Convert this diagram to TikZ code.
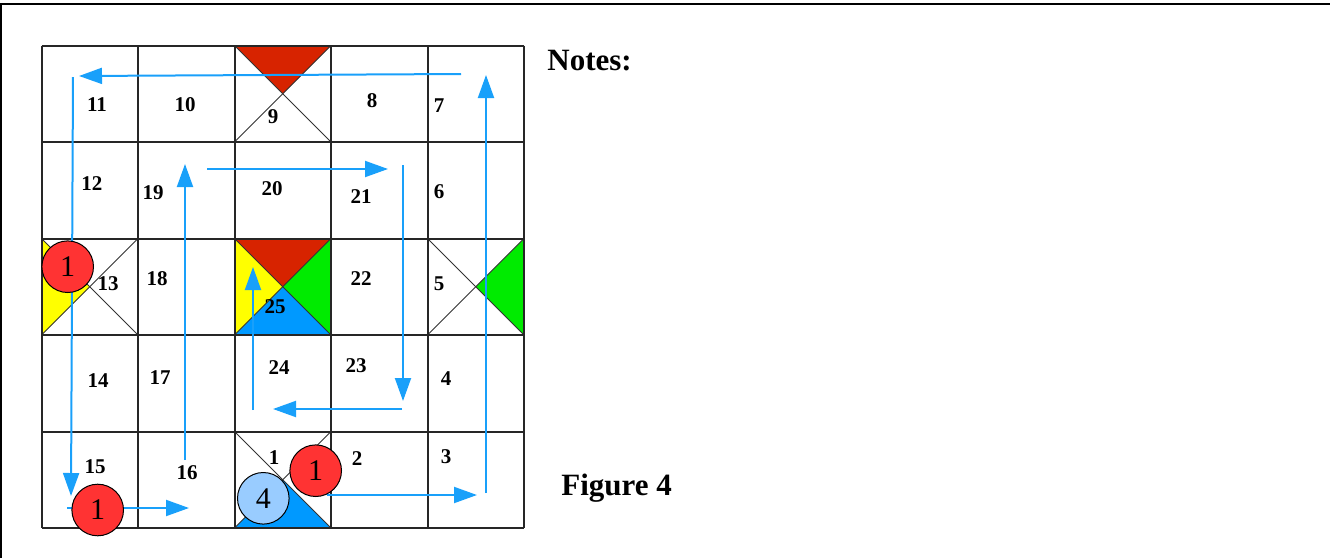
\documentclass[tikz,border=0pt]{standalone}
\usepackage{fontspec}
\setmainfont{Liberation Serif}
\usepackage{tikz}
\usetikzlibrary{arrows.meta}
\definecolor{cred}{RGB}{215,35,0}
\definecolor{cgreen}{RGB}{0,235,0}
\definecolor{cyellow}{RGB}{255,255,0}
\definecolor{cblue}{RGB}{0,153,255}
\definecolor{croute}{RGB}{25,160,250}
\definecolor{ctok}{RGB}{255,51,51}
\definecolor{ctokb}{RGB}{153,204,255}
\tikzset{
  borderline/.style={line width=1pt,black},
  gridline/.style={line width=1pt,black!85},
  diag/.style={line width=0.5pt,black!80},
  cellnum/.style={font=\bfseries\fontsize{10.5}{12}\selectfont,inner sep=0pt},
  % blue route through the cells
  route/.style={line width=1pt,croute,-{Triangle[length=11.5pt,width=8pt]}},
  token/.style={circle,draw=black,line width=0.5pt,minimum size=25.8pt,
    inner sep=0pt,font=\fontsize{15}{17}\selectfont},
  heading/.style={font=\bfseries\fontsize{15.5}{18}\selectfont,anchor=base west,inner sep=0pt}
}
\begin{document}
\begin{tikzpicture}[x=0.5pt,y=-0.5pt]
  \useasboundingbox (0,0) rectangle (1330,558);
  \draw[borderline] (1,558) -- (1,4) -- (1330,4);

  % coloured triangles
  \fill[cred] (234.5,45.5) -- (331,45.5) -- (282.75,93.75) -- cycle;
  \fill[cyellow] (41.5,238.5) -- (89.75,286.75) -- (41.5,335) -- cycle;
  \fill[cred] (234.5,238.5) -- (331,238.5) -- (282.75,286.75) -- cycle;
  \fill[cgreen] (331,238.5) -- (331,335) -- (282.75,286.75) -- cycle;
  \fill[cblue] (234.5,335) -- (331,335) -- (282.75,286.75) -- cycle;
  \fill[cyellow] (234.5,238.5) -- (234.5,335) -- (282.75,286.75) -- cycle;
  \fill[cgreen] (524,238.5) -- (524,335) -- (475.75,286.75) -- cycle;
  \fill[cblue] (234.5,528) -- (331,528) -- (282.75,479.75) -- cycle;

  % diagonals
  \foreach \cx/\cy in {234.5/45.5, 41.5/238.5, 234.5/238.5, 427.5/238.5, 234.5/431.5} {
    \draw[diag] (\cx,\cy) -- ++(96.5,96.5);
    \draw[diag] (\cx,\cy+96.5) -- ++(96.5,-96.5);
  }

  % grid
  \foreach \i in {0,...,5} {
    \draw[gridline] ({41.5+96.5*\i},45.5) -- ({41.5+96.5*\i},528);
    \draw[gridline] (41.5,{45.5+96.5*\i}) -- (524,{45.5+96.5*\i});
  }

  % cell numbers
  \foreach \n/\px/\py in {11/97/105, 10/185/105, 9/273/117, 8/372/101, 7/439/106,
      12/92/184, 19/153/193, 20/272/189, 21/361/197, 6/439/192,
      13/108/284, 18/157/279, 25/275/307, 22/361/279, 5/439/284,
      14/98/381, 17/160/378, 24/279/368, 23/356/366, 4/446/379,
      15/95/467, 16/187/473, 1/274/458, 2/357/459, 3/446/457}
    \node[cellnum] (n\n) at (\px,\py) {\n};

  % route way points
  \coordinate (t1) at (461,74);  \coordinate (t2) at (79,76);
  \coordinate (l1) at (73,77);   \coordinate (l2) at (71,496);
  \coordinate (b1) at (67,508);  \coordinate (b2) at (189,508);
  \coordinate (u1) at (185,460); \coordinate (u2) at (185,164);
  \coordinate (e1) at (207,169); \coordinate (e2) at (388,169);
  \coordinate (d1) at (403,165); \coordinate (d2) at (403,401);
  \coordinate (g1) at (402,409); \coordinate (g2) at (273,409);
  \coordinate (h1) at (253,410); \coordinate (h2) at (253,267);
  \coordinate (r1) at (327,495); \coordinate (r2) at (477,495);
  \coordinate (r3) at (486,493); \coordinate (r4) at (486,75);

  \draw[route] (t1) -- (t2);
  \draw[route] (l1) -- (l2);
  \draw[route] (b1) -- (b2);
  \draw[route] (u1) -- (u2);
  \draw[route] (e1) -- (e2);
  \draw[route] (d1) -- (d2);
  \draw[route] (g1) -- (g2);
  \draw[route] (h1) -- (h2);
  \draw[route] (r1) -- (r2);
  \draw[route] (r3) -- (r4);

  % tokens
  \node[token,fill=ctok] (tok13) at (67.7,266.7) {1};
  \node[token,fill=ctok] (tok15) at (97.7,510) {1};
  \node[token,fill=ctok] (tok1) at (315.7,470.7) {1};
  \node[token,fill=ctokb] (tok4) at (263.3,498.3) {4};

  \node[heading] (notes) at (547,70) {Notes:};
  \node[heading] (fig) at (561,495) {Figure 4};
\end{tikzpicture}
\end{document}
